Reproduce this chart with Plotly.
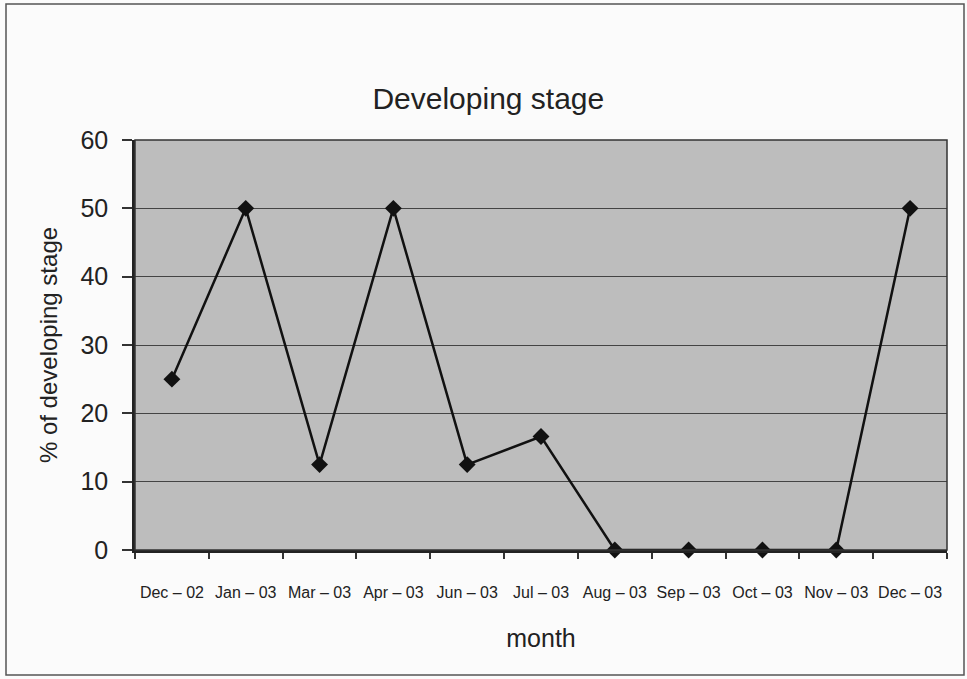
import plotly.graph_objects as go

months = ["Dec – 02", "Jan – 03", "Mar – 03", "Apr – 03", "Jun – 03", "Jul – 03",
          "Aug – 03", "Sep – 03", "Oct – 03", "Nov – 03", "Dec – 03"]
percent_developing = [25, 50, 12.5, 50, 12.5, 16.6, 0, 0, 0, 0, 50]
y_ticks = [0, 10, 20, 30, 40, 50, 60]

FONT = "Liberation Sans, Arial, sans-serif"

fig = go.Figure()
fig.add_trace(go.Scatter(
    x=months, y=percent_developing, mode="lines+markers",
    line=dict(color="#111111", width=2.5),
    marker=dict(symbol="diamond", size=13, color="#111111"),
    cliponaxis=False, showlegend=False,
))

W, H = 967, 679
L, R, T, B = 135, 20, 140, 129
pw, ph = W - L - R, H - T - B

def px2paper_x(px):
    return (px - L) / pw

def px2paper_y(py):
    return (H - B - py) / ph

fig.add_shape(type="rect", xref="paper", yref="paper",
              x0=px2paper_x(6), x1=px2paper_x(964), y0=px2paper_y(675), y1=px2paper_y(4),
              line=dict(color="#555555", width=1.5), layer="below")
fig.add_shape(type="rect", xref="paper", yref="paper",
              x0=0, x1=1, y0=0, y1=1,
              line=dict(color="#333333", width=1.5), layer="above")

fig.update_layout(
    width=W, height=H,
    margin=dict(l=L, r=R, t=T, b=B),
    paper_bgcolor="#fbfbfb",
    plot_bgcolor="#bdbdbd",
    font=dict(family=FONT, color="#222222"),
    title=dict(text="Developing stage", x=0.505, xref="container", xanchor="center",
               y=1 - 98 / H, yanchor="middle", yref="container",
               font=dict(size=30, family=FONT, color="#222222")),
    xaxis=dict(
        type="category", categoryorder="array", categoryarray=months,
        range=[-0.5, len(months) - 0.5],
        tickson="boundaries", ticks="outside", ticklen=6, tickcolor="#333333",
        tickwidth=1.5,
        showgrid=False, showline=True, linecolor="#222222", linewidth=2.5,
        tickfont=dict(size=16, family=FONT, color="#222222"),
        ticklabelstandoff=26,
        title=dict(text="month", font=dict(size=25, family=FONT, color="#222222"),
                   standoff=30),
        fixedrange=True,
    ),
    yaxis=dict(
        range=[0, 60], tickvals=y_ticks,
        ticks="outside", ticklen=10, tickcolor="#333333", tickwidth=1.5,
        showgrid=True, gridcolor="#444444", gridwidth=1.2,
        showline=True, linecolor="#222222", linewidth=2.5,
        zeroline=False,
        tickfont=dict(size=25, family=FONT, color="#222222"),
        ticklabelstandoff=9,
        title=dict(text="% of developing stage",
                   font=dict(size=24, family=FONT, color="#222222"), standoff=17),
        fixedrange=True,
    ),
)

fig.write_html("out.html", config={"displayModeBar": False},
               post_script="document.body.style.margin='0';")
